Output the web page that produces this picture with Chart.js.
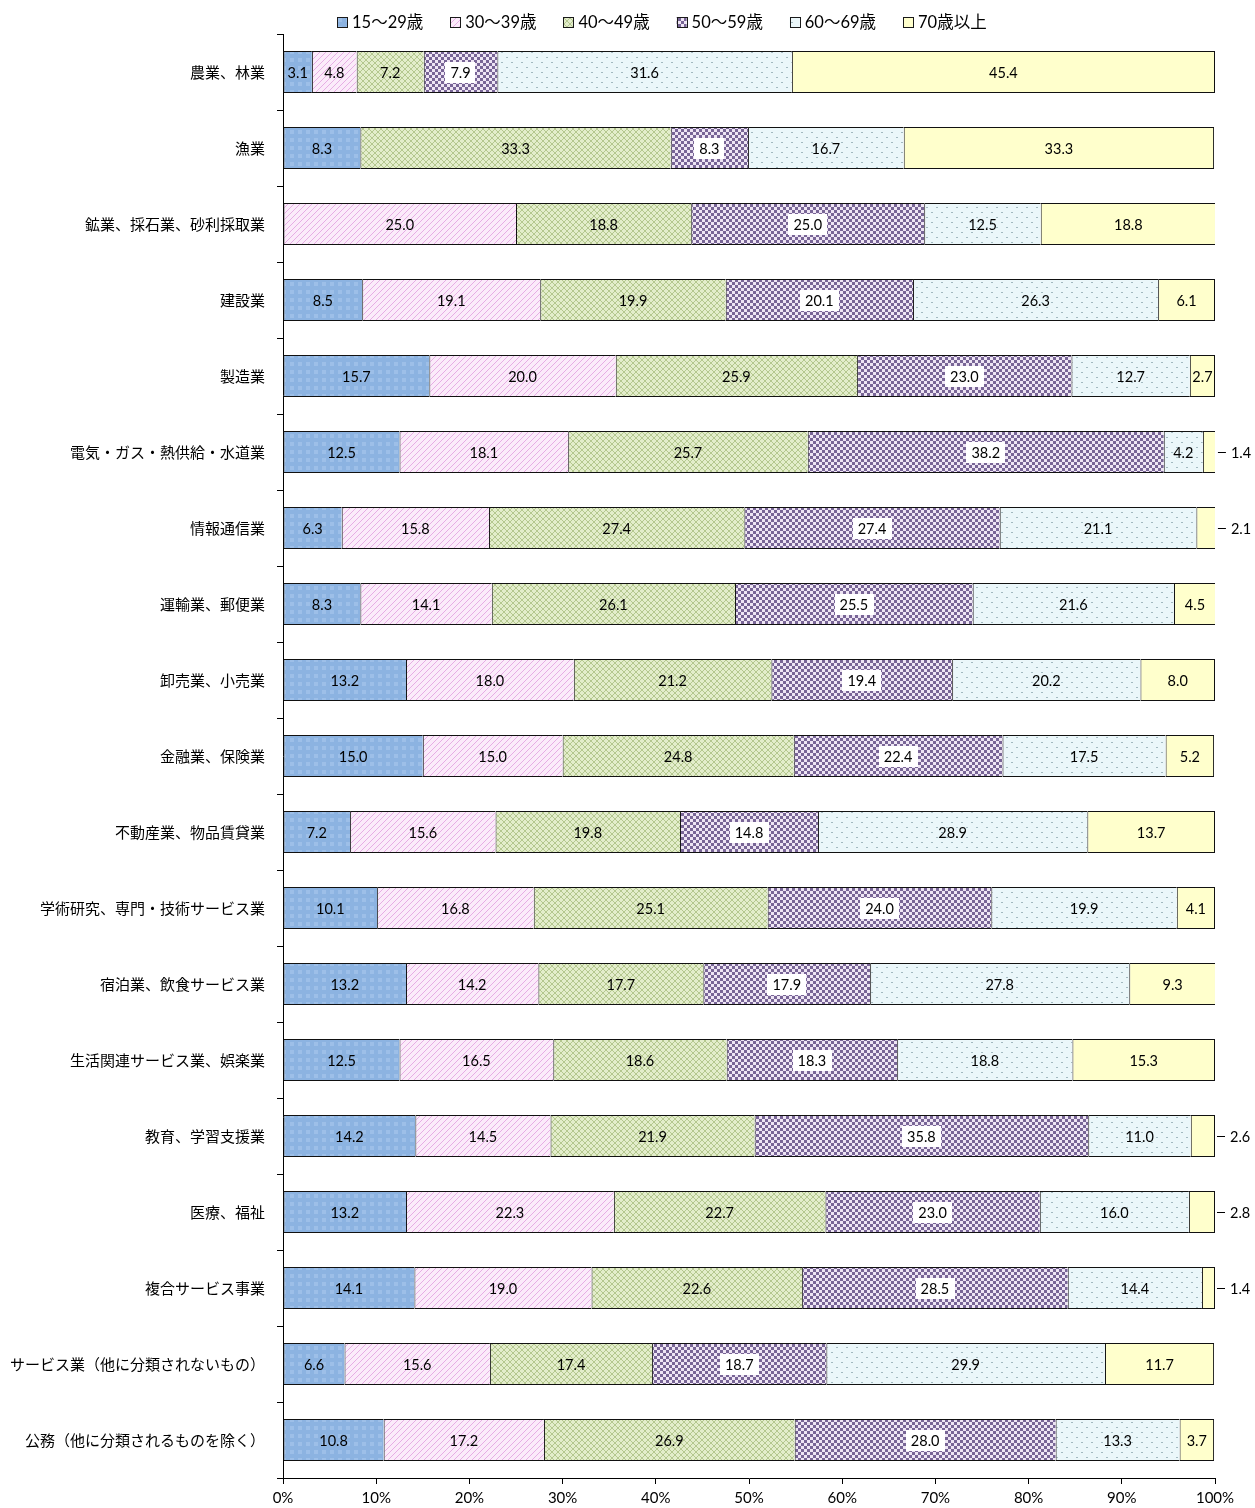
<!DOCTYPE html>
<html lang="ja">
<head>
<meta charset="utf-8">
<title>産業別 年齢構成</title>
<script src="https://cdn.jsdelivr.net/npm/chart.js@4.4.1/dist/chart.umd.min.js"></script>
<style>
  html, body { margin: 0; padding: 0; background: #fff; }
  #wrap { width: 1255px; height: 1508px; position: relative; }
</style>
</head>
<body>
<div id="wrap"><canvas id="age-chart" width="1255" height="1508"></canvas></div>
<script>
// 産業分類
const categories = [
    "農業、林業",
    "漁業",
    "鉱業、採石業、砂利採取業",
    "建設業",
    "製造業",
    "電気・ガス・熱供給・水道業",
    "情報通信業",
    "運輸業、郵便業",
    "卸売業、小売業",
    "金融業、保険業",
    "不動産業、物品賃貸業",
    "学術研究、専門・技術サービス業",
    "宿泊業、飲食サービス業",
    "生活関連サービス業、娯楽業",
    "教育、学習支援業",
    "医療、福祉",
    "複合サービス事業",
    "サービス業（他に分類されないもの）",
    "公務（他に分類されるものを除く）",
];

const ageGroups = ["15～29歳", "30～39歳", "40～49歳", "50～59歳", "60～69歳", "70歳以上"];

// 年齢階級別の割合（%）
const age15to29 = [3.1, 8.3, 0, 8.5, 15.7, 12.5, 6.3, 8.3, 13.2, 15.0, 7.2, 10.1, 13.2, 12.5, 14.2, 13.2, 14.1, 6.6, 10.8];
const age30to39 = [4.8, 0, 25.0, 19.1, 20.0, 18.1, 15.8, 14.1, 18.0, 15.0, 15.6, 16.8, 14.2, 16.5, 14.5, 22.3, 19.0, 15.6, 17.2];
const age40to49 = [7.2, 33.3, 18.8, 19.9, 25.9, 25.7, 27.4, 26.1, 21.2, 24.8, 19.8, 25.1, 17.7, 18.6, 21.9, 22.7, 22.6, 17.4, 26.9];
const age50to59 = [7.9, 8.3, 25.0, 20.1, 23.0, 38.2, 27.4, 25.5, 19.4, 22.4, 14.8, 24.0, 17.9, 18.3, 35.8, 23.0, 28.5, 18.7, 28.0];
const age60to69 = [31.6, 16.7, 12.5, 26.3, 12.7, 4.2, 21.1, 21.6, 20.2, 17.5, 28.9, 19.9, 27.8, 18.8, 11.0, 16.0, 14.4, 29.9, 13.3];
const age70plus = [45.4, 33.3, 18.8, 6.1, 2.7, 1.4, 2.1, 4.5, 8.0, 5.2, 13.7, 4.1, 9.3, 15.3, 2.6, 2.8, 1.4, 11.7, 3.7];

// 70歳以上のラベルを棒の外に出す行
const outsideRows = [5, 6, 14, 15, 16];

const NUM_FONT = "Lato, 'Noto Sans CJK JP', sans-serif";
const JP_FONT = "'Noto Sans CJK JP', sans-serif";

document.addEventListener("DOMContentLoaded", () => {
    const canvas = document.getElementById("age-chart");
    const ctx = canvas.getContext("2d");

    // パターン作成
    function makePattern(size, draw) {
        const c = document.createElement("canvas");
        c.width = size;
        c.height = size;
        draw(c.getContext("2d"), size);
        return ctx.createPattern(c, "repeat");
    }

    const patBlue = makePattern(8, (g, s) => {
        g.fillStyle = "#8CB3E1";
        g.fillRect(0, 0, s, s);
        g.fillStyle = "#9DBFE8";
        g.fillRect(2, 2, 4, 4);
    });
    const patPink = makePattern(6, (g, s) => {
        g.fillStyle = "#FBEBFA";
        g.fillRect(0, 0, s, s);
        g.strokeStyle = "#E6AEE4";
        g.lineWidth = 1;
        g.beginPath();
        g.moveTo(-1, s + 1); g.lineTo(s + 1, -1);
        g.moveTo(-1, 1); g.lineTo(1, -1);
        g.moveTo(s - 1, s + 1); g.lineTo(s + 1, s - 1);
        g.stroke();
    });
    const patGreen = makePattern(6, (g, s) => {
        g.fillStyle = "#E3EDCB";
        g.fillRect(0, 0, s, s);
        g.strokeStyle = "#B4C78F";
        g.lineWidth = 1;
        g.beginPath();
        g.moveTo(0, 0); g.lineTo(s, s);
        g.moveTo(0, s); g.lineTo(s, 0);
        g.stroke();
    });
    const patPurple = makePattern(6, (g, s) => {
        g.fillStyle = "#EEE5F4";
        g.fillRect(0, 0, s, s);
        g.fillStyle = "#786596";
        g.fillRect(0, 0, 3, 3);
        g.fillRect(3, 3, 3, 3);
    });
    const patCyan = makePattern(10, (g, s) => {
        g.fillStyle = "#EBF7FA";
        g.fillRect(0, 0, s, s);
        g.fillStyle = "#A3B9C0";
        g.fillRect(1, 2, 2, 1);
        g.fillRect(6, 7, 2, 1);
    });
    const fillYellow = "#FFFFCC";

    const fills = [patBlue, patPink, patGreen, patPurple, patCyan, fillYellow];
    const series = [age15to29, age30to39, age40to49, age50to59, age60to69, age70plus];

    // 隣り合う棒の境界線が二重にならないよう、右辺は最後の系列だけ描く
    const datasets = series.map((values, i) => ({
        label: ageGroups[i],
        data: values,
        backgroundColor: fills[i],
        borderColor: "#111",
        borderWidth: (c) => (c.raw ? { top: 1, bottom: 1, left: 1, right: i === series.length - 1 ? 1 : 0 } : 0),
        borderSkipped: false,
        categoryPercentage: 1,
        barPercentage: 0.55,
    }));

    // 数値ラベルと凡例を描く
    const labelPlugin = {
        id: "valueLabels",
        afterDatasetsDraw(chart) {
            const g = chart.ctx;
            g.save();
            g.font = "14.5px " + NUM_FONT;
            g.textBaseline = "middle";
            chart.data.datasets.forEach((ds, di) => {
                const meta = chart.getDatasetMeta(di);
                meta.data.forEach((bar, ri) => {
                    const v = ds.data[ri];
                    if (!v) return;
                    const txt = v.toFixed(1);
                    if (di === 5 && outsideRows.includes(ri)) {
                        g.strokeStyle = "#000";
                        g.lineWidth = 1;
                        g.beginPath();
                        g.moveTo(bar.x + 2, Math.round(bar.y) + 0.5);
                        g.lineTo(bar.x + 10, Math.round(bar.y) + 0.5);
                        g.stroke();
                        g.fillStyle = "#000";
                        g.textAlign = "left";
                        g.fillText(txt, bar.x + 15, bar.y + 1);
                        return;
                    }
                    const cx = (bar.x + bar.base) / 2;
                    if (di === 3) {
                        const w = g.measureText(txt).width + 10;
                        g.fillStyle = "#fff";
                        g.fillRect(Math.round(cx - w / 2), Math.round(bar.y - 10), Math.round(w), 21);
                    }
                    g.fillStyle = "#000";
                    g.textAlign = "center";
                    g.fillText(txt, cx, bar.y + 1);
                });
            });
            g.restore();
        },
        afterDraw(chart) {
            const g = chart.ctx;
            g.save();
            g.font = "16.5px " + NUM_FONT;
            g.textBaseline = "middle";
            g.textAlign = "left";
            ageGroups.forEach((name, i) => {
                const x = 337 + i * 113.2;
                const y = 22;
                g.fillStyle = fills[i];
                g.fillRect(x, y - 5, 10, 10);
                g.strokeStyle = "#1a1a1a";
                g.lineWidth = 1;
                g.strokeRect(Math.round(x) + 0.5, y - 4.5, 10, 10);
                g.fillStyle = "#000";
                g.fillText(name, x + 15, y + 1);
            });
            g.restore();
        },
    };

    new Chart(ctx, {
        type: "bar",
        data: { labels: categories, datasets: datasets },
        options: {
            indexAxis: "y",
            responsive: false,
            animation: false,
            layout: { padding: { top: 34, right: 40, bottom: 0, left: 0 } },
            plugins: {
                legend: { display: false },
                tooltip: { enabled: false },
            },
            scales: {
                x: {
                    stacked: true,
                    min: 0,
                    max: 100,
                    afterFit: (s) => { s.height = 30; },
                    border: { display: true, color: "#000", width: 1 },
                    grid: { display: true, drawOnChartArea: false, drawTicks: true, tickLength: 6, color: "#000" },
                    ticks: {
                        stepSize: 10,
                        padding: 5,
                        color: "#000",
                        font: { size: 15, family: NUM_FONT },
                        callback: (v) => v + "%",
                    },
                },
                y: {
                    stacked: true,
                    afterFit: (s) => { s.width = 283; },
                    border: { display: true, color: "#000", width: 1 },
                    grid: { display: true, offset: true, drawOnChartArea: false, drawTicks: true, tickLength: 6, color: "#000" },
                    ticks: {
                        padding: 12,
                        color: "#000",
                        font: { size: 15, family: JP_FONT },
                    },
                },
            },
        },
        plugins: [labelPlugin],
    });
});
</script>
</body>
</html>
